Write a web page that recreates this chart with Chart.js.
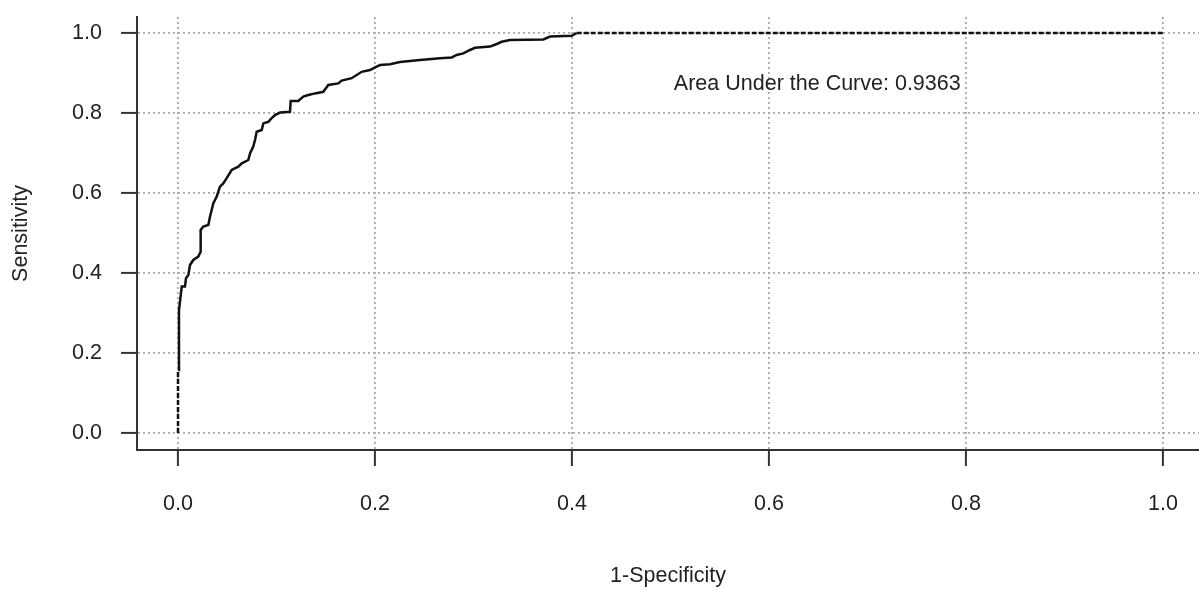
<!DOCTYPE html>
<html>
<head>
<meta charset="utf-8">
<title>ROC Curve</title>
<script src="https://cdn.jsdelivr.net/npm/chart.js@4/dist/chart.umd.min.js"></script>
<style>
  html, body { margin: 0; padding: 0; background: #fff; }
  .chart-wrap { position: relative; width: 1199px; height: 589px; }
</style>
</head>
<body>
<div class="chart-wrap"><canvas id="roc-chart"></canvas></div>
<script>
'use strict';

// ── Data ──────────────────────────────────────────────────────
const fpr = [
  0, 0, 0.001, 0.0038, 0.0071, 0.0081, 0.0105, 0.0122, 0.0155, 0.0206,
  0.023, 0.023, 0.0257, 0.0308, 0.0325, 0.0342, 0.0358, 0.0393, 0.0426, 0.046,
  0.0494, 0.0545, 0.0612, 0.0647, 0.0714, 0.0731, 0.0764, 0.0782, 0.0799, 0.085,
  0.0866, 0.0917, 0.0951, 0.0985, 0.1036, 0.1137, 0.1144, 0.1221, 0.1272, 0.1323,
  0.1391, 0.1475, 0.1526, 0.1627, 0.1662, 0.1763, 0.1865, 0.1949, 0.2017, 0.2051,
  0.2152, 0.2254, 0.2457, 0.266, 0.2779, 0.2829, 0.2896, 0.2964, 0.3015, 0.3168,
  0.3236, 0.3286, 0.337, 0.3709, 0.3777, 0.3997, 0.4048, 1.0
];
const tpr = [
  0, 0.1575, 0.3075, 0.366, 0.366, 0.387, 0.395, 0.42, 0.4325, 0.441,
  0.453, 0.5075, 0.516, 0.52, 0.541, 0.5575, 0.574, 0.591, 0.616, 0.624,
  0.637, 0.6575, 0.666, 0.674, 0.6825, 0.699, 0.716, 0.7325, 0.753, 0.7575,
  0.774, 0.778, 0.787, 0.795, 0.801, 0.803, 0.83, 0.83, 0.841, 0.845,
  0.849, 0.853, 0.87, 0.874, 0.881, 0.887, 0.903, 0.9075, 0.916, 0.92,
  0.922, 0.9275, 0.9325, 0.937, 0.939, 0.945, 0.949, 0.9575, 0.963, 0.966,
  0.9725, 0.978, 0.9825, 0.984, 0.991, 0.993, 1.0, 1.0
];
const axisTicks = [0, 0.2, 0.4, 0.6, 0.8, 1.0];
const aucValue  = 0.9363;
const aucLabel  = `Area Under the Curve: ${aucValue}`;
const aucAnchor = { x: 0.649, y: 0.8725 };

// ── Styles ────────────────────────────────────────────────────
const FONT      = '"Liberation Sans", Arial, sans-serif';
const FONT_SIZE = 21.5;
const TEXT_CLR  = '#222';
const AXIS_CLR  = '#333';
const GRID_CLR  = '#a8a8a8';

const points = fpr.map((x, i) => ({ x, y: tpr[i] }));
const lastIdx = points.length - 2;

const fixTicks = scale => {
  scale.ticks = axisTicks.map(value => ({ value }));
};

// ── AUC annotation ────────────────────────────────────────────
const aucText = {
  id: 'aucText',
  afterDatasetsDraw(chart) {
    const { ctx, scales: { x, y } } = chart;
    ctx.save();
    ctx.font = `${FONT_SIZE}px ${FONT}`;
    ctx.fillStyle = TEXT_CLR;
    ctx.textAlign = 'center';
    ctx.textBaseline = 'middle';
    ctx.fillText(aucLabel, x.getPixelForValue(aucAnchor.x), y.getPixelForValue(aucAnchor.y));
    ctx.restore();
  }
};

// ── ROC Chart ─────────────────────────────────────────────────
new Chart(document.getElementById('roc-chart'), {
  type: 'line',
  data: {
    datasets: [{
      data: points,
      borderColor: '#111',
      borderWidth: 2.5,
      pointRadius: 0,
      tension: 0,
      fill: false,
      segment: {
        borderDash: c => (c.p0DataIndex === 0 || c.p0DataIndex === lastIdx) ? [5, 2] : undefined
      }
    }]
  },
  options: {
    responsive: true,
    maintainAspectRatio: false,
    animation: false,
    layout: { padding: { top: 17, left: 0, right: 0, bottom: 0 } },
    plugins: {
      legend: { display: false },
      tooltip: { enabled: false }
    },
    scales: {
      x: {
        type: 'linear',
        min: (137 - 178) / 985,
        max: (1199 - 178) / 985,
        afterBuildTicks: fixTicks,
        afterFit: s => {
          s.height = 139;
          s.paddingLeft = 0;
          s.paddingRight = 0;
        },
        grid: {
          color: GRID_CLR, lineWidth: 1.8,
          tickLength: 16, tickColor: AXIS_CLR, tickWidth: 2, tickBorderDash: []
        },
        border: { display: true, color: AXIS_CLR, width: 2, dash: [2, 3] },
        ticks: {
          padding: 25,
          color: TEXT_CLR,
          font: { family: FONT, size: FONT_SIZE },
          maxRotation: 0,
          callback: v => v.toFixed(1)
        },
        title: {
          display: true,
          text: '1-Specificity',
          color: TEXT_CLR,
          font: { family: FONT, size: FONT_SIZE },
          padding: { top: 0, bottom: 0 }
        }
      },
      y: {
        type: 'linear',
        min: (433 - 450) / 400,
        max: (433 - 17) / 400,
        afterBuildTicks: fixTicks,
        afterFit: s => {
          s.width = 137;
          s.paddingTop = 0;
          s.paddingBottom = 0;
        },
        grid: {
          color: GRID_CLR, lineWidth: 1.8,
          tickLength: 16, tickColor: AXIS_CLR, tickWidth: 2, tickBorderDash: []
        },
        border: { display: true, color: AXIS_CLR, width: 2, dash: [2, 3] },
        ticks: {
          padding: 19,
          color: TEXT_CLR,
          font: { family: FONT, size: FONT_SIZE },
          callback: v => v.toFixed(1)
        },
        title: {
          display: true,
          text: 'Sensitivity',
          color: TEXT_CLR,
          font: { family: FONT, size: FONT_SIZE },
          padding: { top: 8, bottom: 0 }
        }
      }
    }
  },
  plugins: [aucText]
});
</script>
</body>
</html>
